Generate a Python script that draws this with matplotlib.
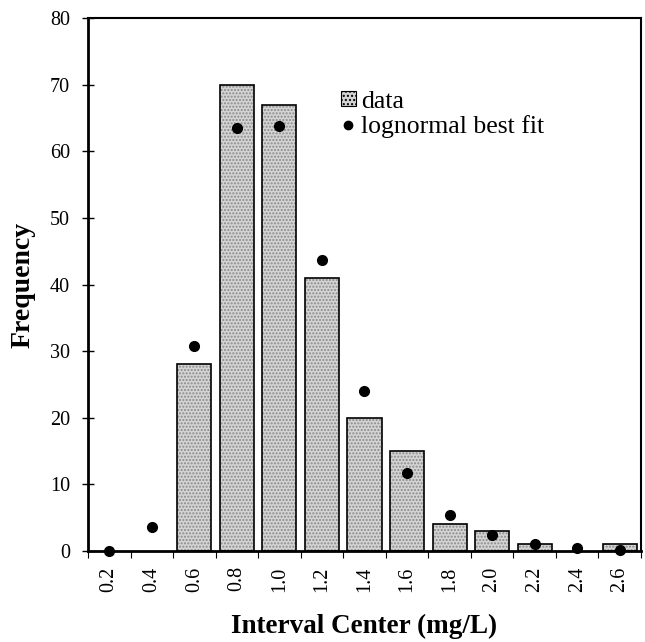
import numpy as np
import matplotlib.pyplot as plt
from matplotlib.patches import Patch
from matplotlib.lines import Line2D

centers = ['0.2', '0.4', '0.6', '0.8', '1.0', '1.2', '1.4', '1.6', '1.8', '2.0', '2.2', '2.4', '2.6']
counts = [0, 0, 28, 70, 67, 41, 20, 15, 4, 3, 1, 0, 1]
fit = [0, 3.6, 30.8, 63.5, 63.8, 43.7, 24, 11.7, 5.4, 2.4, 1.0, 0.4, 0.15]

plt.rcParams['font.family'] = ['Liberation Serif', 'DejaVu Serif']

fig = plt.figure(figsize=(6.45, 6.42), dpi=100)
ax = fig.add_axes([0.1364, 0.1417, 0.8574, 0.8303])

x = np.arange(len(centers))
h = np.array(counts, dtype=float)
ax.bar(x, h, width=0.8, color='#d4d4d4', edgecolor='#8a8a8a', hatch='.....', linewidth=0, zorder=2)
nz = h > 0
ax.bar(x[nz], h[nz], width=0.8, color='none', edgecolor='black', linewidth=1.2, zorder=3)
ax.plot(x, fit, 'o', color='black', markersize=7, clip_on=False, zorder=5)

ax.set_xlim(-0.5, len(centers) - 0.5)
ax.set_ylim(0, 80)
ax.set_yticks(np.arange(0, 81, 10))
ax.set_xticks(x)
ax.set_xticklabels(centers, rotation=90)
ax.set_xticks(np.arange(-0.5, len(centers), 1), minor=True)
ax.tick_params(axis='x', which='major', length=0, pad=11, labelsize=14.5)
ax.tick_params(axis='x', which='minor', direction='out', length=5, width=0.8)
ax.tick_params(axis='y', direction='inout', length=8, width=1, labelsize=14.5, pad=9)

for s in ['left', 'bottom']:
    ax.spines[s].set_linewidth(2)
for s in ['top', 'right']:
    ax.spines[s].set_linewidth(1.5)

ax.set_xlabel('Interval Center (mg/L)', fontsize=19.5, fontweight='bold', labelpad=16)
ax.set_ylabel('Frequency', fontsize=20, fontweight='bold', labelpad=10)

handles = [Patch(facecolor='#d4d4d4', edgecolor='black', hatch='....', linewidth=0.8),
           Line2D([], [], marker='o', color='black', linestyle='none', markersize=6)]
ax.legend(handles, ['data', 'lognormal best fit'], loc='upper left',
          bbox_to_anchor=(0.435, 0.888), frameon=False, fontsize=18.5, borderpad=0,
          handlelength=0.55, handleheight=0.55, handletextpad=0.2, labelspacing=0.1)

fig.savefig('out.png', dpi=100)
